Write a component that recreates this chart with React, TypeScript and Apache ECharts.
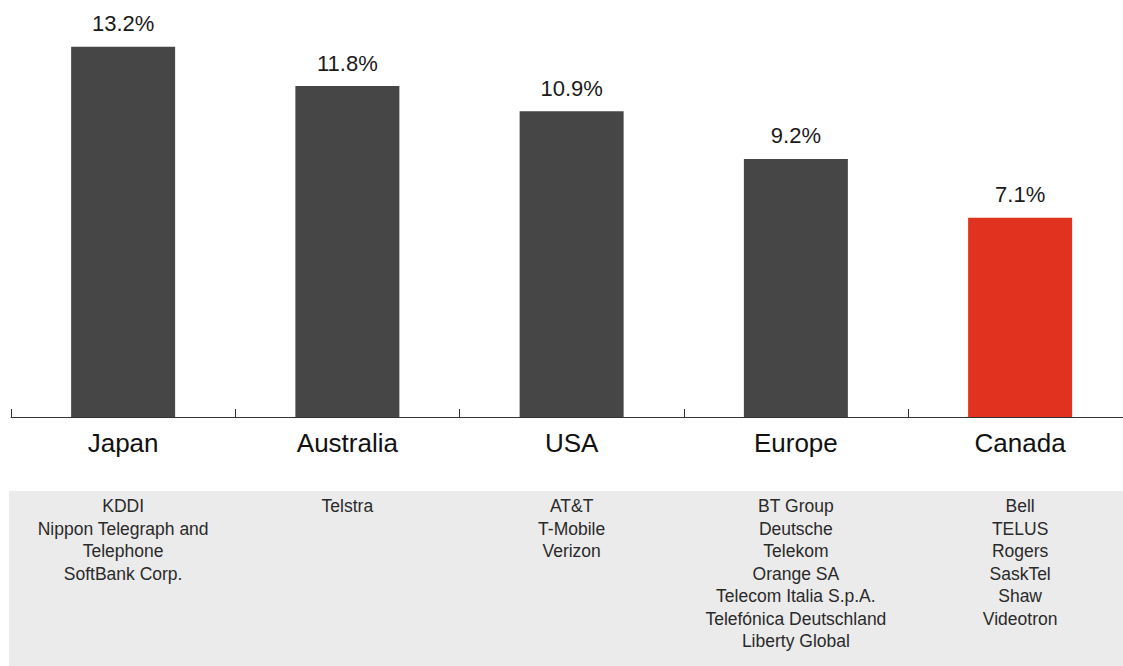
import React, { useEffect, useRef } from "react";
import * as echarts from "echarts";

const categories = ["Japan", "Australia", "USA", "Europe", "Canada"];
const values = [13.2, 11.8, 10.9, 9.2, 7.1];
const companies = [
  ["KDDI", "Nippon Telegraph and", "Telephone", "SoftBank Corp."],
  ["Telstra"],
  ["AT&T", "T-Mobile", "Verizon"],
  ["BT Group", "Deutsche", "Telekom", "Orange SA", "Telecom Italia S.p.A.", "Telefónica Deutschland", "Liberty Global"],
  ["Bell", "TELUS", "Rogers", "SaskTel", "Shaw", "Videotron"],
];
const highlight = "Canada";

const FONT = "'Liberation Sans', Arial, Helvetica, sans-serif";

export default function App() {
  const ref = useRef<HTMLDivElement>(null);
  useEffect(() => {
    if (!ref.current) return;
    const chart = echarts.init(ref.current, undefined, { renderer: "svg" });
    chart.setOption({
      animation: false,
      textStyle: { fontFamily: FONT },
      grid: { left: 11, right: 7.75, top: 24.3, bottom: 249 },
      graphic: [
        {
          type: "rect",
          z: -10,
          shape: { x: 9, y: 491, width: 1140, height: 180 },
          style: { fill: "#ebebeb" },
          silent: true,
        },
      ],
      xAxis: [
        {
          type: "category",
          data: categories,
          axisLine: { lineStyle: { color: "#333", width: 1 } },
          axisTick: { show: true, interval: 0, inside: true, length: 8, lineStyle: { color: "#333" } },
          axisLabel: { interval: 0, color: "#111", fontSize: 26, margin: 13, fontFamily: FONT },
        },
        {
          type: "category",
          data: categories,
          position: "bottom",
          offset: 70,
          axisLine: { show: false },
          axisTick: { show: false },
          axisLabel: {
            interval: 0,
            color: "#2a2a2a",
            fontSize: 17.5,
            lineHeight: 22.5,
            margin: 8,
            fontFamily: FONT,
            verticalAlign: "top",
            formatter: (_v: string, i: number) => companies[i].join("\n"),
          },
        },
      ],
      yAxis: { type: "value", min: 0, max: 14, show: false, splitLine: { show: false } },
      series: [
        {
          type: "bar",
          barWidth: 104,
          data: values.map((v, i) => ({
            value: v,
            itemStyle: { color: categories[i] === highlight ? "#e0321f" : "#464646" },
          })),
          label: {
            show: true,
            position: "top",
            distance: 12,
            color: "#1a1a1a",
            fontSize: 22,
            fontFamily: FONT,
            formatter: (p: any) => p.value.toFixed(1) + "%",
          },
        },
      ],
    });
    return () => chart.dispose();
  }, []);
  return (
    <div style={{ position: "fixed", left: 0, top: 0, width: 1123, height: 666, overflow: "hidden", background: "#fff" }}>
      <div ref={ref} style={{ width: 1140, height: 666 }} />
    </div>
  );
}
